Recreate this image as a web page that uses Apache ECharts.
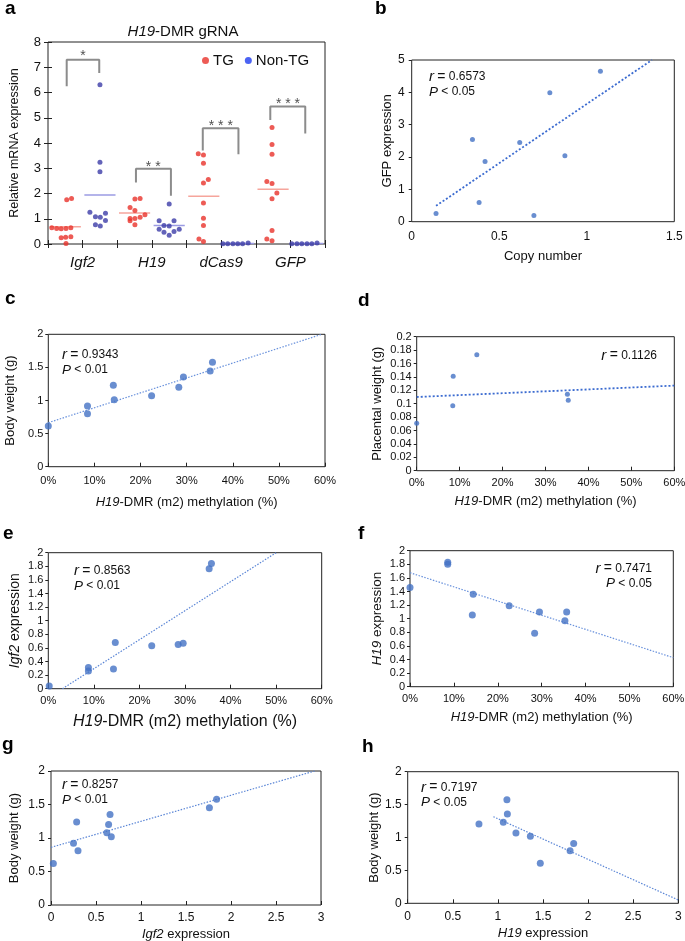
<!DOCTYPE html>
<html><head><meta charset="utf-8">
<script src="https://cdn.jsdelivr.net/npm/echarts@6/dist/echarts.min.js"></script>
<style>html,body{margin:0;padding:0;background:#fff}#c{width:685px;height:941px}</style>
</head><body><div id="c"></div>
<script>
// ---------- Panel a: relative mRNA expression (slot offset, value) ----------
const aCategories = ['Igf2', 'H19', 'dCas9', 'GFP'];
const aTicks = [0, 1, 2, 3, 4, 5, 6, 7, 8];
const igf2TG = [[0.54,1.75],[0.68,1.80],[0.11,0.64],[0.25,0.61],[0.38,0.60],[0.52,0.61],[0.66,0.64],[0.38,0.25],[0.51,0.27],[0.66,0.29],[0.52,0.02]];
const igf2Non = [[0.50,6.31],[0.50,3.24],[0.50,2.86],[0.21,1.26],[0.37,1.08],[0.51,1.06],[0.66,1.22],[0.66,0.93],[0.37,0.76],[0.51,0.71]];
const h19TG = [[0.51,1.78],[0.66,1.80],[0.37,1.45],[0.51,1.33],[0.37,1.01],[0.37,0.92],[0.51,1.01],[0.66,1.06],[0.80,1.16],[0.51,0.76]];
const h19Non = [[0.50,1.58],[0.21,0.92],[0.64,0.92],[0.35,0.73],[0.50,0.71],[0.21,0.58],[0.35,0.47],[0.50,0.35],[0.64,0.50],[0.79,0.58]];
const dcas9TG = [[0.34,3.57],[0.49,3.52],[0.49,3.20],[0.49,2.42],[0.63,2.55],[0.49,1.62],[0.49,1.02],[0.49,0.73],[0.36,0.20],[0.49,0.10]];
const dcas9Non = [[0.05,0.01],[0.19,0.01],[0.34,0.01],[0.48,0.01],[0.62,0.01],[0.78,0.04]];
const gfpTG = [[0.47,4.61],[0.47,3.94],[0.47,3.55],[0.32,2.48],[0.47,2.40],[0.61,2.02],[0.47,1.79],[0.47,0.53],[0.32,0.20],[0.47,0.13]];
const gfpNon = [[0.04,0.01],[0.19,0.01],[0.33,0.01],[0.48,0.01],[0.62,0.01],[0.77,0.04]];
const brackets = [
  [[0.54,6.25],[0.54,7.30],[1.48,7.30],[1.48,6.77]],
  [[2.54,2.44],[2.54,2.98],[3.55,2.98],[3.55,1.91]],
  [[4.47,3.70],[4.47,4.58],[5.50,4.58],[5.50,3.55]],
  [[6.42,4.91],[6.42,5.45],[7.43,5.45],[7.43,4.38]]
];
const starLabels = ['*', '* *', '* * *', '* * *'];
const starPos = [[1.01,7.56],[3.04,3.18],[4.99,4.78],[6.93,5.67]];

// ---------- Panel b ----------
const bCopy = [0.139,0.347,0.385,0.419,0.617,0.698,0.789,0.875,1.078];
const bGfp = [0.25,2.54,0.59,1.86,2.45,0.19,3.99,2.04,4.65];
const bTrend = [[0.139,0.49],[1.372,5.0]];
// ---------- Panel c ----------
const cMeth = [0,8.5,8.5,14.1,14.3,22.4,28.3,29.3,35.1,35.6];
const cBw = [0.615,0.917,0.80,1.23,1.01,1.07,1.20,1.355,1.445,1.577];
const cTrend = [[0,0.665],[59.3,2.0]];
// ---------- Panel d ----------
const dMeth = [0,8.4,8.5,14.0,35.1,35.3];
const dPw = [0.0707,0.097,0.141,0.173,0.114,0.105];
const dTrend = [[0,0.110],[60,0.127]];
// ---------- Panel e ----------
const eMeth = [0.2,8.8,8.8,14.3,14.7,22.7,28.5,29.6,35.3,35.8];
const eIgf2 = [0.04,0.31,0.26,0.29,0.68,0.63,0.65,0.67,1.765,1.84];
const eTrend = [[3.1,0],[50,2]];
// ---------- Panel f ----------
const fMeth = [0,8.6,8.6,14.4,14.2,22.6,28.4,29.5,35.3,35.7];
const fH19 = [1.46,1.83,1.80,1.36,1.055,1.19,0.785,1.10,0.97,1.10];
const fTrend = [[0,1.676],[60,0.427]];
// ---------- Panel g ----------
const gIgf2 = [0.026,0.25,0.285,0.30,0.62,0.64,0.656,0.67,1.76,1.84];
const gBw = [0.62,0.92,1.24,0.81,1.08,1.20,1.35,1.02,1.45,1.58];
const gTrend = [[0,0.86],[2.93,2.0]];
// ---------- Panel h ----------
const hH19 = [0.79,1.06,1.10,1.105,1.20,1.36,1.47,1.80,1.84];
const hBw = [1.205,1.23,1.575,1.357,1.07,1.02,0.61,0.80,0.91];
const hTrend = [[0.95,1.316],[3.0,0.05]];

// ---------- styling ----------
const F = '"Liberation Sans", Arial, Helvetica, sans-serif';
const TXT = '#111';
const RED = '#e8322b', NAVY = '#3c3ca8', BLUE = '#4472c4';

const chart = echarts.init(document.getElementById('c'), null, {renderer: 'canvas'});

const gridDefs = [
  {left:48, top:42, width:277, height:202},
  {left:411.7, top:60, width:262.6, height:161.7},
  {left:48.3, top:334.3, width:276.7, height:132.4},
  {left:416.7, top:336.7, width:257.6, height:134},
  {left:48.3, top:552.7, width:273.4, height:136},
  {left:410, top:550.7, width:263.3, height:136},
  {left:51, top:771, width:270, height:134},
  {left:407.7, top:771.7, width:270.6, height:131.6}
];
const grid = gridDefs.map(g => Object.assign({show:true, borderColor:'#222', borderWidth:1, backgroundColor:'transparent', containLabel:false, outerBoundsMode:'none'}, g));

function rich(base) {
  return {i: Object.assign({fontStyle:'italic', fontFamily:F, color:TXT}, base)};
}
function axis(gi, min, max, interval, o) {
  const a = {
    type:'value', gridIndex:gi, min, max, interval,
    axisLine:{show:false}, splitLine:{show:false},
    axisTick:{show:false},
    axisLabel:{fontFamily:F, color:TXT, fontSize:11, margin:6},
    nameTextStyle:{fontFamily:F, color:TXT, fontSize:13}
  };
  return echarts.util.merge(a, o || {}, true);
}
const tickIn = {show:true, inside:true, length:4, lineStyle:{color:'#222', width:1}};
const tickOut = {show:true, inside:false, length:3, lineStyle:{color:'#222', width:1}};
const pct = v => v + '%';
const methName = '{i|H19}-DMR (m2) methylation (%)';

const xAxis = [
  axis(0, 0, 8, 1, {axisTick:tickIn, axisLabel:{fontSize:15, fontStyle:'italic', margin:11,
    formatter: v => (v % 2 === 1 ? aCategories[(v - 1) / 2] : '')}}),
  axis(0, 0, 8, 1, {position:'top', axisTick:tickIn, axisLabel:{show:false}}),
  axis(1, 0, 1.5, 0.5, {axisLabel:{fontSize:12, margin:9}, name:'Copy number', nameLocation:'middle', nameGap:28}),
  axis(2, 0, 60, 10, {axisTick:tickIn, axisLabel:{formatter:pct, margin:9}, name:methName, nameLocation:'middle', nameGap:29, nameTextStyle:{rich:rich({fontSize:13})}}),
  axis(3, 0, 60, 10, {axisTick:tickIn, axisLabel:{formatter:pct, margin:7}, name:methName, nameLocation:'middle', nameGap:24, nameTextStyle:{rich:rich({fontSize:13})}}),
  axis(4, 0, 60, 10, {axisTick:tickIn, axisLabel:{formatter:pct, margin:7}, name:methName, nameLocation:'middle', nameGap:25, nameTextStyle:{fontSize:16, rich:rich({fontSize:16})}}),
  axis(5, 0, 60, 10, {axisTick:tickIn, axisLabel:{formatter:pct, margin:7}, name:methName, nameLocation:'middle', nameGap:24, nameTextStyle:{rich:rich({fontSize:13})}}),
  axis(6, 0, 3, 0.5, {axisTick:tickIn, axisLabel:{fontSize:12, margin:7}, name:'{i|Igf2} expression', nameLocation:'middle', nameGap:23, nameTextStyle:{rich:rich({fontSize:13})}}),
  axis(7, 0, 3, 0.5, {axisTick:tickIn, axisLabel:{fontSize:12, margin:7}, name:'{i|H19} expression', nameLocation:'middle', nameGap:24, nameTextStyle:{rich:rich({fontSize:13})}})
];
const yAxis = [
  axis(0, 0, 8, 1, {axisTick:tickIn, axisLabel:{fontSize:13, margin:7}, name:'Relative mRNA expression', nameLocation:'middle', nameGap:27, nameTextStyle:{fontSize:12.5}}),
  axis(0, 0, 8, 1, {position:'right', axisTick:tickIn, axisLabel:{show:false}}),
  axis(1, 0, 5, 1, {axisTick:tickOut, axisLabel:{fontSize:12, margin:7}, name:'GFP expression', nameLocation:'middle', nameGap:18}),
  axis(2, 0, 2, 0.5, {axisTick:tickOut, axisLabel:{margin:5}, name:'Body weight (g)', nameLocation:'middle', nameGap:31}),
  axis(3, 0, 0.2, 0.02, {axisTick:tickOut, axisLabel:{margin:5}, name:'Placental weight (g)', nameLocation:'middle', nameGap:33}),
  axis(4, 0, 2, 0.2, {axisTick:tickOut, axisLabel:{margin:5}, name:'{i|Igf2} expression', nameLocation:'middle', nameGap:26, nameTextStyle:{fontSize:14, rich:rich({fontSize:14})}}),
  axis(5, 0, 2, 0.2, {axisTick:tickOut, axisLabel:{margin:5}, name:'{i|H19} expression', nameLocation:'middle', nameGap:26, nameTextStyle:{fontSize:13.5, rich:rich({fontSize:13.5})}}),
  axis(6, 0, 2, 0.5, {axisTick:tickOut, axisLabel:{fontSize:12, margin:6}, name:'Body weight (g)', nameLocation:'middle', nameGap:30}),
  axis(7, 0, 2, 0.5, {axisTick:tickOut, axisLabel:{fontSize:12, margin:6}, name:'Body weight (g)', nameLocation:'middle', nameGap:26})
];

const series = [];
// panel a points
const tgGroups = [igf2TG, h19TG, dcas9TG, gfpTG];
const nonGroups = [igf2Non, h19Non, dcas9Non, gfpNon];
function slotData(groups, parity) {
  const out = [];
  groups.forEach((g, i) => g.forEach(p => out.push([2 * i + parity + p[0], p[1]])));
  return out;
}
function mean(g) { return g.reduce((s, p) => s + p[1], 0) / g.length; }
tgGroups.forEach((g, i) => {
  const m = mean(g), s = 2 * i;
  series.push({type:'line', xAxisIndex:0, yAxisIndex:0, data:[[s + 0.05, m], [s + 0.95, m]], symbol:'none', silent:true, z:1,
    lineStyle:{color:'#f6a59c', width:1.5}});
});
nonGroups.forEach((g, i) => {
  const m = mean(g), s = 2 * i + 1;
  series.push({type:'line', xAxisIndex:0, yAxisIndex:0, data:[[s + 0.05, m], [s + 0.95, m]], symbol:'none', silent:true, z:1,
    lineStyle:{color:'#9b9be3', width:1.5}});
});
series.push({name:'TG', type:'scatter', xAxisIndex:0, yAxisIndex:0, data:slotData(tgGroups, 0), symbolSize:5, clip:false, itemStyle:{color:RED}, z:3});
series.push({name:'Non-TG', type:'scatter', xAxisIndex:0, yAxisIndex:0, data:slotData(nonGroups, 1), symbolSize:5, clip:false, itemStyle:{color:NAVY}, z:3});
brackets.forEach(b => series.push({type:'line', xAxisIndex:0, yAxisIndex:0, data:b, symbol:'none', silent:true, z:2,
  lineStyle:{color:'#8c8c8c', width:2}}));
series.push({type:'scatter', xAxisIndex:0, yAxisIndex:0, symbolSize:0.1, silent:true, clip:false,
  data: starPos.map((p, i) => ({value:p, name:starLabels[i]})),
  label:{show:true, position:'inside', formatter:'{b}', fontFamily:F, fontSize:14, color:'#222', offset:[0, 3]}});

// scatter panels
function zip(xs, ys) { return xs.map((x, i) => [x, ys[i]]); }
const panels = [
  {k:2, xs:bCopy, ys:bGfp, trend:bTrend, size:5, tw:1.8, tc:'#3b6bd0', dash:[2,2]},
  {k:3, xs:cMeth, ys:cBw, trend:cTrend, size:7, tw:1.2, tc:'#6a92dc', dash:[1.5,1.5]},
  {k:4, xs:dMeth, ys:dPw, trend:dTrend, size:5, tw:1.8, tc:'#3b6bd0', dash:[2,2]},
  {k:5, xs:eMeth, ys:eIgf2, trend:eTrend, size:7, tw:1.2, tc:'#5b86d6', dash:[1.5,1.5]},
  {k:6, xs:fMeth, ys:fH19, trend:fTrend, size:7, tw:1.2, tc:'#6a92dc', dash:[1.5,1.5]},
  {k:7, xs:gIgf2, ys:gBw, trend:gTrend, size:7, tw:1.2, tc:'#5b86d6', dash:[1.5,1.5]},
  {k:8, xs:hH19, ys:hBw, trend:hTrend, size:7, tw:1.2, tc:'#5b86d6', dash:[1.5,1.5]}
];
panels.forEach(p => {
  series.push({type:'line', xAxisIndex:p.k, yAxisIndex:p.k, data:p.trend, symbol:'none', silent:true, z:2,
    lineStyle:{color:p.tc, width:p.tw, type:p.dash}});
  series.push({type:'scatter', xAxisIndex:p.k, yAxisIndex:p.k, data:zip(p.xs, p.ys), symbolSize:p.size, clip:false, z:3,
    itemStyle:{color:BLUE}});
});

// text annotations
function t(x, y, text, o) {
  return {type:'text', x, y, silent:true, style:Object.assign({text, fontFamily:F, fontSize:13, fill:TXT, align:'left', verticalAlign:'middle'}, o || {})};
}
const statRich = {
  i:{fontStyle:'italic', fontSize:15, fontFamily:F, fill:TXT, color:TXT},
  p:{fontStyle:'italic', fontSize:13.5, fontFamily:F, fill:TXT, color:TXT},
  e:{fontSize:14, fontFamily:F, fill:TXT, color:TXT}
};
function stat(x, y, r, pv, align) {
  const els = [t(x, y, '{i|r} {e|=} ' + r, {rich:statRich, fontSize:12, align})];
  if (pv) els.push(t(x, y + 15, '{p|P} < ' + pv, {rich:statRich, fontSize:12, align}));
  return els;
}
const letters = [['a',5,9],['b',375,9],['c',5,299],['d',358,301],['e',3,534],['f',358,534],['g',2,745],['h',362,747]];
const graphic = [];
letters.forEach(l => graphic.push(t(l[1], l[2], l[0], {fontSize:19, fontWeight:'bold', fill:'#000'})));
graphic.push(t(183, 32, '{i|H19}-DMR gRNA', {align:'center', fontSize:15,
  rich:{i:{fontStyle:'italic', fontSize:15, fontFamily:F, fill:TXT, color:TXT}}}));
graphic.push(...stat(429, 77, '0.6573', '0.05', 'left'));
graphic.push(...stat(62, 355, '0.9343', '0.01', 'left'));
graphic.push(...stat(657, 355.5, '0.1126', null, 'right'));
graphic.push(...stat(74, 571, '0.8563', '0.01', 'left'));
graphic.push(...stat(652, 568.5, '0.7471', '0.05', 'right'));
graphic.push(...stat(62, 785, '0.8257', '0.01', 'left'));
graphic.push(...stat(421, 787.5, '0.7197', '0.05', 'left'));

chart.setOption({
  animation:false,
  backgroundColor:'#fff',
  textStyle:{fontFamily:F},
  grid, xAxis, yAxis, series, graphic,
  legend:{
    left:202, top:53, padding:0, itemGap:11, itemWidth:7, itemHeight:7, icon:'circle',
    textStyle:{fontFamily:F, fontSize:15, color:TXT, padding:[0,0,0,-1]},
    data:[{name:'TG', itemStyle:{color:RED}}, {name:'Non-TG', itemStyle:{color:'#1e3cf0'}}]
  }
});
</script></body></html>
